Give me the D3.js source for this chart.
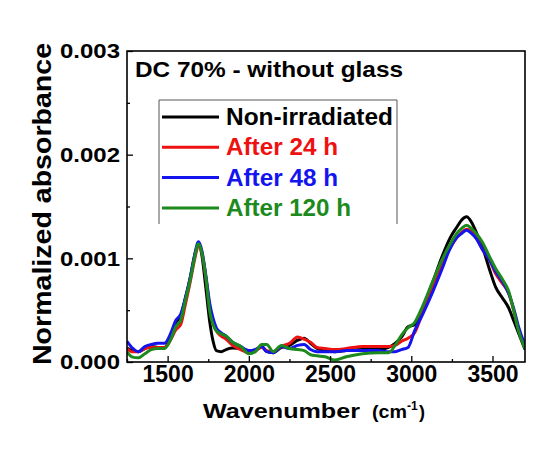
<!DOCTYPE html>
<html>
<head>
<meta charset="utf-8">
<script src="https://cdn.jsdelivr.net/npm/d3@7"></script>
<style>
  body { margin: 0; background: #fff; }
  text { font-family: "Liberation Sans", Arial, sans-serif; font-weight: bold; }
</style>
</head>
<body>
<div id="chart"></div>
<script>
// chart size
const width = 534
const height = 450

// data
const wavenumber = [1250,1280,1320,1360,1400,1440,1480,1520,1550,1580,1610,1640,1665,1690,1710,1735,1760,1780,1800,1830,1860,1900,1950,2000,2040,2080,2110,2150,2200,2250,2300,2340,2380,2420,2470,2530,2600,2700,2800,2860,2900,2940,2980,3020,3070,3130,3190,3240,3280,3310,3340,3370,3400,3440,3480,3520,3560,3600,3630,3660,3700]

const nonIrradiated = [0.000135,0.00011,0.0001,0.00013,0.00015,0.00014,0.000135,0.00026,0.00038,0.00044,0.00062,0.00082,0.00102,0.00114,0.00104,0.00072,0.00038,0.0002,0.00011,0.0001,0.00012,0.000135,0.00013,0.00011,0.000115,0.00015,0.0001,0.00009,0.00014,0.00016,0.00021,0.00023,0.00018,0.00013,0.00011,0.0001,0.00011,0.00012,0.00012,0.00014,0.00018,0.00024,0.00034,0.00036,0.00052,0.00076,0.00102,0.0012,0.0013,0.00137,0.0014,0.00135,0.00125,0.0011,0.0009,0.00072,0.00062,0.00052,0.0004,0.00028,0.00012]

const after24 = [0.00013,0.0001,0.0001,0.00013,0.00014,0.00014,0.00014,0.00022,0.00031,0.00036,0.00056,0.00078,0.00098,0.00112,0.00106,0.00082,0.00052,0.00038,0.0003,0.00025,0.00022,0.00016,0.00012,0.00009,0.00011,0.00014,0.00011,0.0001,0.00015,0.00018,0.00024,0.00022,0.00019,0.00014,0.00013,0.00012,0.00013,0.00015,0.00015,0.00015,0.00016,0.0002,0.00023,0.00028,0.00048,0.00072,0.00095,0.0011,0.0012,0.00125,0.00128,0.00126,0.0012,0.00108,0.00099,0.00085,0.00076,0.00066,0.0005,0.00031,0.00014]

const after48 = [0.0002,0.00014,0.0001,0.00015,0.00017,0.00018,0.00018,0.00028,0.0004,0.00046,0.00062,0.00082,0.00102,0.00116,0.00108,0.00084,0.00056,0.00042,0.00033,0.00028,0.00025,0.00019,0.00015,0.00011,0.00012,0.00015,0.0001,0.00009,0.00015,0.00013,0.00016,0.00017,0.00012,0.0001,0.0001,0.0001,0.00011,0.00011,0.00011,0.0001,0.0001,0.00012,0.00014,0.0003,0.00046,0.00067,0.0009,0.0011,0.0012,0.00124,0.00127,0.00124,0.00119,0.00108,0.00099,0.00087,0.00078,0.00066,0.00052,0.00034,0.00016]

const after120 = [0.0001,0.00005,0.00004,0.00008,0.00012,0.00013,0.00013,0.00022,0.00034,0.0004,0.0006,0.0008,0.001,0.00114,0.00106,0.00082,0.00048,0.00036,0.0003,0.00027,0.00025,0.00019,0.00015,0.00008,0.0001,0.00017,0.00017,0.0001,0.00016,0.00013,0.00012,0.00011,0.00007,0.00006,0.00005,0.00002,0.00005,0.00008,0.00009,0.00009,0.00016,0.00026,0.00033,0.00038,0.00054,0.00077,0.00099,0.00114,0.00124,0.00129,0.00132,0.00129,0.00124,0.00115,0.00102,0.0009,0.0008,0.00068,0.0005,0.0003,0.00013]

const seriesNames = ["Non-irradiated", "After 24 h", "After 48 h", "After 120 h"]
const seriesValues = [nonIrradiated, after24, after48, after120]
const seriesColors = ["#000000", "#ee1111", "#1414ee", "#1c8a1c"]

const xMajor = [1500, 2000, 2500, 3000, 3500]
const xMinor = [1250, 1750, 2250, 2750, 3250]
const yMajor = [0, 0.001, 0.002, 0.003]
const yMinor = [0.0005, 0.0015, 0.0025]

// plot frame
const margin = {left: 127, right: 9, top: 51, bottom: 88}
const pw = width - margin.left - margin.right
const ph = height - margin.top - margin.bottom

var svg = d3.select("#chart")
            .append("svg")
            .attr("width", width)
            .attr("height", height)

var g = svg.append("g")
           .attr("transform", "translate(" + margin.left + "," + margin.top + ")")

var x = d3.scaleLinear().domain([1250, 3700]).range([0, pw])
var y = d3.scaleLinear().domain([0, 0.003]).range([ph, 0])

g.append("clipPath").attr("id", "clip")
  .append("rect").attr("width", pw).attr("height", ph)

// curves
var line = d3.line()
             .x(function(d, i){ return x(wavenumber[i]) })
             .y(function(d){ return y(d) })
             .curve(d3.curveMonotoneX)

g.append("g")
  .attr("clip-path", "url(#clip)")
  .selectAll("path")
  .data(seriesValues)
  .enter()
  .append("path")
  .attr("d", line)
  .attr("fill", "none")
  .attr("stroke", function(d, i){ return seriesColors[i] })
  .attr("stroke-width", 3)
  .attr("stroke-linejoin", "round")

// axes, ticks point inward
var xAxis = g.append("g")
  .attr("transform", "translate(0," + ph + ")")
  .call(d3.axisBottom(x).tickValues(xMajor).tickSize(-6).tickPadding(4).tickFormat(d3.format("d")))
xAxis.selectAll("text").attr("font-size", 23).attr("fill", "#000")
g.append("g")
  .attr("transform", "translate(0," + ph + ")")
  .call(d3.axisBottom(x).tickValues(xMinor).tickSize(-3).tickFormat(""))

var yAxis = g.append("g")
  .call(d3.axisLeft(y).tickValues(yMajor).tickSize(-6).tickPadding(7).tickFormat(d3.format(".3f")))
yAxis.selectAll("text").attr("font-size", 21).attr("textLength", 60)
     .attr("lengthAdjust", "spacingAndGlyphs").attr("fill", "#000")
g.append("g")
  .call(d3.axisLeft(y).tickValues(yMinor).tickSize(-3).tickFormat(""))

g.selectAll(".domain").remove()
g.selectAll(".tick line").attr("stroke", "#000").attr("stroke-width", 1.3)

// frame
g.append("rect")
  .attr("width", pw).attr("height", ph)
  .attr("fill", "none").attr("stroke", "#000").attr("stroke-width", 1.6)

// title inside plot
g.append("text")
  .attr("x", 8).attr("y", 26)
  .attr("font-size", 22)
  .attr("textLength", 268).attr("lengthAdjust", "spacingAndGlyphs")
  .text("DC 70% - without glass")

// legend
var legend = g.append("g").attr("transform", "translate(32,49)")
legend.append("path")
  .attr("d", "M0,124V0H238V124")
  .attr("fill", "none").attr("stroke", "#555").attr("stroke-width", 1)

var legendWidths = [167, 112, 112, 125]
var items = legend.selectAll(".item")
  .data(seriesNames)
  .enter()
  .append("g")
  .attr("transform", function(d, i){ return "translate(0," + (17 + i * 30.3) + ")" })
items.append("line")
  .attr("x1", 3).attr("x2", 60)
  .attr("stroke", function(d, i){ return seriesColors[i] })
  .attr("stroke-width", 3)
items.append("text")
  .attr("x", 67).attr("y", 8)
  .attr("font-size", 23)
  .attr("textLength", function(d, i){ return legendWidths[i] })
  .attr("lengthAdjust", "spacingAndGlyphs")
  .attr("fill", function(d, i){ return seriesColors[i] })
  .text(function(d){ return d })

// axis titles
svg.append("text")
  .attr("transform", "translate(51,204) rotate(-90)")
  .attr("text-anchor", "middle")
  .attr("font-size", 25)
  .attr("textLength", 322).attr("lengthAdjust", "spacingAndGlyphs")
  .text("Normalized absorbance")

svg.append("text")
  .attr("x", 203).attr("y", 418)
  .attr("font-size", 21)
  .attr("textLength", 157).attr("lengthAdjust", "spacingAndGlyphs")
  .text("Wavenumber")
svg.append("text")
  .attr("x", 372).attr("y", 418)
  .attr("font-size", 18)
  .attr("textLength", 35).attr("lengthAdjust", "spacingAndGlyphs")
  .text("(cm")
svg.append("text")
  .attr("x", 407).attr("y", 410)
  .attr("font-size", 12)
  .text("-1")
svg.append("text")
  .attr("x", 419).attr("y", 418)
  .attr("font-size", 18)
  .text(")")
</script>
</body>
</html>
